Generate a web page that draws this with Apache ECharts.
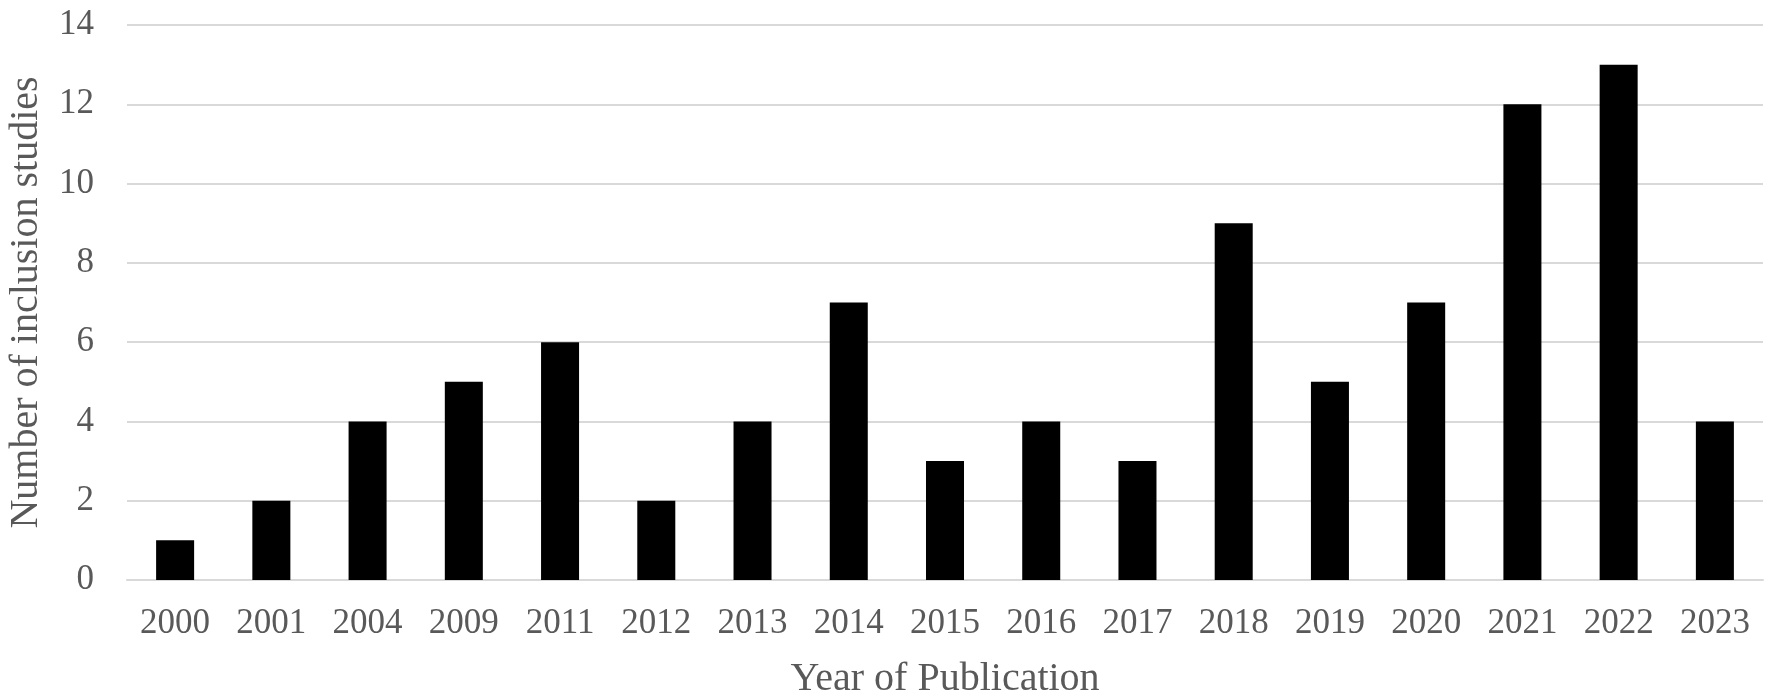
<!DOCTYPE html>
<html>
<head>
	<meta charset="utf-8">
	<title>Year of Publication</title>
	<style type="text/css">
		html, body { margin: 0; padding: 0; background: #fff; }
		#main { width: 1772px; height: 696px; }
	</style>
</head>
<body>
<div id="main"></div>
<script type="text/javascript" src="https://cdn.jsdelivr.net/npm/echarts@6/dist/echarts.min.js"></script>
<script type="text/javascript">
	// data
	var years = ['2000', '2001', '2004', '2009', '2011', '2012', '2013', '2014', '2015',
		'2016', '2017', '2018', '2019', '2020', '2021', '2022', '2023'];
	var studies = [1, 2, 4, 5, 6, 2, 4, 7, 3, 4, 3, 9, 5, 7, 12, 13, 4];
	var yMin = 0, yMax = 14, yStep = 2;

	var serif = "'Liberation Serif', 'Times New Roman', serif";
	var grey = '#595959';

	var myChart = echarts.init(document.getElementById('main'));

	var option = {
		animation: false,
		grid: {
			top: 25,
			left: 127,
			right: 9,
			bottom: 116,
			outerBoundsMode: 'none'
		},
		xAxis: {
			type: 'category',
			data: years,
			name: 'Year of Publication',
			nameLocation: 'middle',
			nameGap: 79,
			nameTextStyle: {
				fontFamily: serif,
				fontSize: 40,
				color: grey
			},
			axisLine: {
				lineStyle: { color: '#d9d9d9', width: 2 }
			},
			axisTick: { show: false },
			axisLabel: {
				fontFamily: serif,
				fontSize: 35,
				color: grey,
				margin: 26
			}
		},
		yAxis: {
			type: 'value',
			min: yMin,
			max: yMax,
			interval: yStep,
			name: 'Number of inclusion studies',
			nameLocation: 'middle',
			nameGap: 81,
			nameTextStyle: {
				fontFamily: serif,
				fontSize: 40,
				color: grey
			},
			axisLine: { show: false },
			axisTick: { show: false },
			axisLabel: {
				fontFamily: serif,
				fontSize: 35,
				color: grey,
				margin: 33
			},
			splitLine: {
				lineStyle: { color: '#d9d9d9', width: 2 }
			}
		},
		series: [{
			type: 'bar',
			data: studies,
			barWidth: '39.5%',
			itemStyle: {
				color: '#000000'
			}
		}]
	};

	myChart.setOption(option);
</script>
</body>
</html>
